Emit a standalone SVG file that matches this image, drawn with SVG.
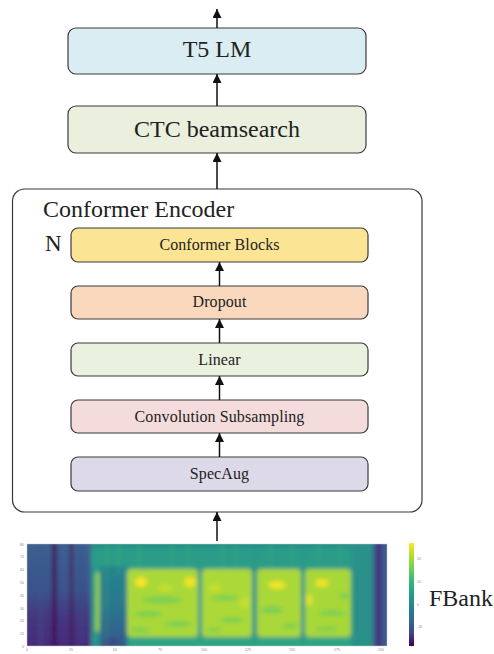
<svg xmlns="http://www.w3.org/2000/svg" width="494" height="654" viewBox="0 0 494 654">
  <style>
    .box { stroke: #3a3a3a; stroke-width: 1.2; }
    .big { font-family: "Liberation Serif", "Times New Roman", serif; font-size: 24px; fill: #222; }
    .mid { font-family: "Liberation Serif", "Times New Roman", serif; font-size: 16px; fill: #222; letter-spacing: 0.1px; }
    .tick { font-family: "Liberation Sans", Arial, sans-serif; font-size: 3.5px; fill: #8a8a8a; }
    .conn line { stroke: #111; stroke-width: 1.5; marker-end: url(#arrow); }
    .stripe { opacity: 0.35; }
  </style>
  <defs>
    <marker id="arrow" markerUnits="userSpaceOnUse" markerWidth="9" markerHeight="10" refX="9" refY="4.5" orient="auto">
      <path d="M0,0 L9,4.5 L0,9 z" fill="#111"/>
    </marker>
    <clipPath id="plotClip"><rect x="27" y="544" width="360" height="102"/></clipPath>
    <filter id="soft" x="-5%" y="-5%" width="110%" height="110%"><feGaussianBlur stdDeviation="2.2"/></filter>
    <linearGradient id="quiet" x1="0" y1="0" x2="0" y2="1">
      <stop offset="0" stop-color="#3c6190"/>
      <stop offset="0.45" stop-color="#3b548c"/>
      <stop offset="0.68" stop-color="#45387f"/>
      <stop offset="1" stop-color="#46287a"/>
    </linearGradient>
    <linearGradient id="onset" x1="0" y1="0" x2="0" y2="1">
      <stop offset="0" stop-color="#26868d"/>
      <stop offset="0.5" stop-color="#2a768e"/>
      <stop offset="1" stop-color="#35558b"/>
    </linearGradient>
    <linearGradient id="viridis" x1="0" y1="0" x2="0" y2="1">
      <stop offset="0" stop-color="#fde725"/>
      <stop offset="0.12" stop-color="#b5de2b"/>
      <stop offset="0.25" stop-color="#6ece58"/>
      <stop offset="0.37" stop-color="#35b779"/>
      <stop offset="0.5" stop-color="#1f9e89"/>
      <stop offset="0.62" stop-color="#26828e"/>
      <stop offset="0.75" stop-color="#31688e"/>
      <stop offset="0.87" stop-color="#3e4989"/>
      <stop offset="1" stop-color="#440154"/>
    </linearGradient>
  </defs>

  <g id="t5lm">
    <rect class="box" x="68" y="28" width="298" height="46" rx="8" fill="#daedf2"/>
    <text class="big" x="217" y="57" text-anchor="middle">T5 LM</text>
  </g>

  <g id="ctc">
    <rect class="box" x="68" y="106" width="298" height="47" rx="8" fill="#eaf0dd"/>
    <text class="big" x="217" y="137" text-anchor="middle">CTC beamsearch</text>
  </g>

  <g id="encoder">
    <rect class="box" x="12.5" y="189" width="409.5" height="323" rx="12" fill="#ffffff"/>
    <text class="big" x="43" y="217">Conformer Encoder</text>
    <text class="big" x="45" y="251" style="font-size:23px">N</text>
  </g>

  <g id="conformer-blocks">
    <rect class="box" x="71" y="228" width="297" height="34" rx="7" fill="#fbe594"/>
    <text class="mid" x="219.5" y="250" text-anchor="middle">Conformer Blocks</text>
  </g>

  <g id="dropout">
    <rect class="box" x="71" y="286" width="297" height="33" rx="7" fill="#f9d8bd"/>
    <text class="mid" x="219.5" y="307" text-anchor="middle">Dropout</text>
  </g>

  <g id="linear">
    <rect class="box" x="71" y="343" width="297" height="33" rx="7" fill="#eaf1df"/>
    <text class="mid" x="219.5" y="365" text-anchor="middle">Linear</text>
  </g>

  <g id="conv-subsampling">
    <rect class="box" x="71" y="400" width="297" height="33" rx="7" fill="#f3dcdb"/>
    <text class="mid" x="219.5" y="422" text-anchor="middle">Convolution Subsampling</text>
  </g>

  <g id="specaug">
    <rect class="box" x="71" y="457" width="297" height="34" rx="7" fill="#ded9e8"/>
    <text class="mid" x="219.5" y="479" text-anchor="middle">SpecAug</text>
  </g>

  <!-- filter-bank spectrogram -->
  <g id="fbank">
    <g clip-path="url(#plotClip)">
      <g filter="url(#soft)">
        <rect x="20" y="538" width="375" height="115" fill="#2a948a"/>
        <!-- leading silence -->
        <rect x="20" y="538" width="71" height="115" fill="url(#quiet)"/>
        <rect x="52" y="538" width="4.5" height="115" fill="#43105a"/>
        <rect x="70" y="538" width="3" height="115" fill="#44155c"/>
        <rect x="40" y="538" width="2" height="115" fill="#38588b" opacity="0.6"/>
        <rect x="80" y="538" width="2" height="115" fill="#334e87" opacity="0.6"/>
        <!-- speech band tops -->
        <rect x="91" y="538" width="262" height="30" fill="#2c9c88"/>
        <rect x="91" y="538" width="262" height="10" fill="#27918a"/>
        <!-- onset region -->
        <rect x="100" y="566" width="27" height="85" fill="url(#onset)"/>
        <rect x="95.5" y="572" width="4" height="60" rx="2" fill="#9ed53f"/>
        <ellipse cx="112" cy="642" rx="8" ry="4" fill="#3e4a89"/>
        <!-- voiced segments -->
        <rect x="127" y="569" width="71" height="68" rx="4" fill="#aad838"/>
        <rect x="202" y="569" width="50" height="68" rx="4" fill="#acd937"/>
        <rect x="257" y="569" width="44" height="68" rx="4" fill="#aad838"/>
        <rect x="305" y="569" width="46" height="68" rx="4" fill="#a8d839"/>
        <!-- lower-energy mottling -->
        <ellipse cx="162" cy="600" rx="20" ry="4" fill="#80d04f"/>
        <ellipse cx="148" cy="614" rx="14" ry="3" fill="#7ccf51"/>
        <ellipse cx="178" cy="624" rx="14" ry="3" fill="#7ccf51"/>
        <ellipse cx="140" cy="630" rx="10" ry="3" fill="#85d14c"/>
        <ellipse cx="225" cy="598" rx="14" ry="3" fill="#82d04e"/>
        <ellipse cx="232" cy="620" rx="12" ry="3" fill="#7ccf51"/>
        <ellipse cx="214" cy="630" rx="8" ry="2.5" fill="#84d14d"/>
        <ellipse cx="272" cy="610" rx="12" ry="3.5" fill="#7ccf51"/>
        <ellipse cx="290" cy="626" rx="8" ry="3" fill="#80d04f"/>
        <ellipse cx="332" cy="613" rx="14" ry="3" fill="#7ccf51"/>
        <ellipse cx="326" cy="629" rx="12" ry="2.5" fill="#82d04e"/>
        <ellipse cx="344" cy="596" rx="5" ry="4" fill="#85d14c"/>
        <!-- bright peaks -->
        <ellipse cx="141" cy="582" rx="6" ry="5" fill="#f8e523"/>
        <ellipse cx="190" cy="582" rx="6" ry="5" fill="#f2e424"/>
        <ellipse cx="277" cy="585" rx="9" ry="4" fill="#f2e426"/>
        <ellipse cx="322" cy="583" rx="7" ry="4" fill="#f0e425"/>
        <ellipse cx="309" cy="600" rx="3" ry="6" fill="#e4e228"/>
        <ellipse cx="215" cy="588" rx="6" ry="4" fill="#c8df2e"/>
        <ellipse cx="245" cy="603" rx="5" ry="6" fill="#c4de30"/>
        <ellipse cx="165" cy="588" rx="8" ry="3" fill="#c6df2f"/>
        <!-- low band -->
        <rect x="128" y="637" width="225" height="12" fill="#2ea386"/>
        <!-- vertical frame striations -->
        <g class="stripe">
          <rect x="106" y="544" width="1" height="102" fill="#5ac864"/>
          <rect x="118" y="544" width="1" height="30" fill="#5ac864"/>
          <rect x="138" y="544" width="1.2" height="28" fill="#5ac864"/>
          <rect x="172" y="544" width="1" height="28" fill="#5ac864"/>
          <rect x="187" y="544" width="1" height="28" fill="#5ac864"/>
          <rect x="222" y="544" width="1.2" height="28" fill="#5ac864"/>
          <rect x="236" y="544" width="1" height="28" fill="#5ac864"/>
          <rect x="270" y="544" width="1.2" height="28" fill="#5ac864"/>
          <rect x="292" y="544" width="1" height="28" fill="#5ac864"/>
          <rect x="318" y="544" width="1" height="28" fill="#5ac864"/>
          <rect x="340" y="544" width="1" height="28" fill="#5ac864"/>
          <rect x="362" y="544" width="1" height="102" fill="#5ac864"/>
          <rect x="253.5" y="544" width="1.5" height="102" fill="#21818d"/>
          <rect x="302" y="544" width="1.5" height="102" fill="#21818d"/>
        </g>
        <!-- trailing silence -->
        <rect x="351" y="538" width="22" height="115" fill="#29918a"/>
        <rect x="373" y="538" width="22" height="115" fill="#3c528b"/>
        <rect x="377" y="538" width="4" height="115" fill="#46287b"/>
        <rect x="383" y="538" width="4" height="115" fill="#3d5e8e"/>
      </g>
    </g>
    <rect x="27" y="544" width="360" height="102" fill="none" stroke="#c8c8c8" stroke-width="0.5"/>
    <!-- axis tick labels -->
    <g class="tick" text-anchor="middle">
      <text x="27" y="651">0</text>
      <text x="71" y="651">25</text>
      <text x="115" y="651">50</text>
      <text x="160" y="651">75</text>
      <text x="204" y="651">100</text>
      <text x="248" y="651">125</text>
      <text x="292" y="651">150</text>
      <text x="337" y="651">175</text>
      <text x="381" y="651">200</text>
    </g>
    <g class="tick" text-anchor="end">
      <text x="24" y="545.5">80</text>
      <text x="24" y="558">70</text>
      <text x="24" y="571">60</text>
      <text x="24" y="584">50</text>
      <text x="24" y="597">40</text>
      <text x="24" y="609.5">30</text>
      <text x="24" y="622">20</text>
      <text x="24" y="635">10</text>
      <text x="24" y="647.5">0</text>
    </g>
    <!-- colour scale -->
    <rect x="409" y="543" width="5" height="103" fill="url(#viridis)"/>
    <g class="tick">
      <text x="417" y="560">20</text>
      <text x="417" y="583">10</text>
      <text x="417" y="606">0</text>
      <text x="417" y="628">-10</text>
    </g>
    <text class="big" x="429" y="606">FBank</text>
  </g>

  <!-- connectors, drawn over the encoder frame -->
  <g id="connectors" class="conn">
    <line x1="217" y1="28" x2="217" y2="9"/>
    <line x1="217" y1="106" x2="217" y2="74"/>
    <line x1="217" y1="189" x2="217" y2="153"/>
    <line x1="219.5" y1="286" x2="219.5" y2="262"/>
    <line x1="219.5" y1="343" x2="219.5" y2="319"/>
    <line x1="219.5" y1="400" x2="219.5" y2="376"/>
    <line x1="219.5" y1="457" x2="219.5" y2="433"/>
    <line x1="217" y1="541" x2="217" y2="512"/>
  </g>
</svg>
